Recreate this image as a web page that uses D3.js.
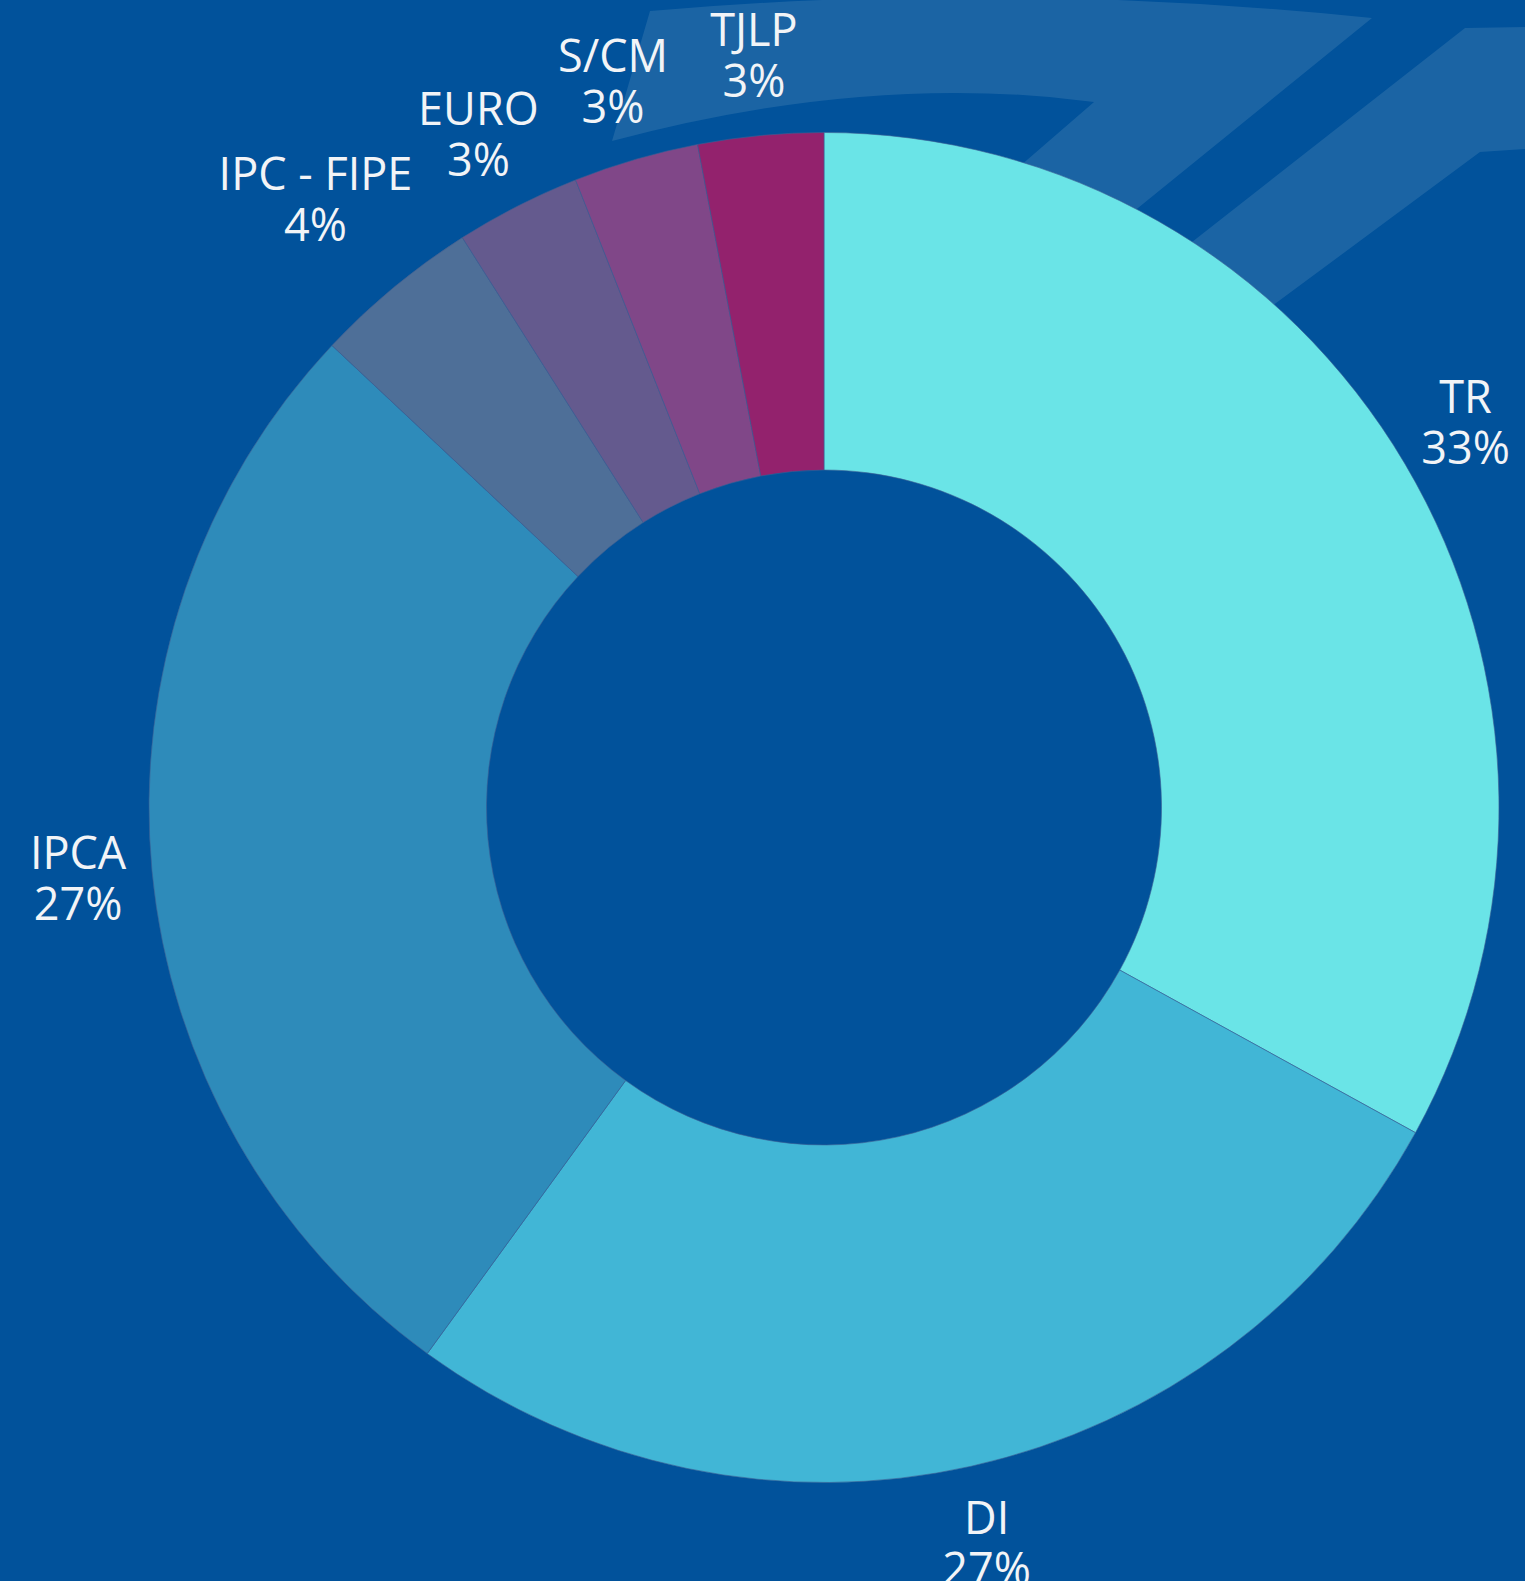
<!DOCTYPE html>
<html>
<head>
<meta charset="utf-8">
<script src="https://cdn.jsdelivr.net/npm/d3@7"></script>
<style>
  html, body { margin: 0; padding: 0; background: #01529b; overflow: hidden; }
  svg { display: block; }
</style>
</head>
<body>
<div id="wrapper"></div>
<script>
const categories = ["TR", "DI", "IPCA", "IPC - FIPE", "EURO", "S/CM", "TJLP"];
const values = [33, 27, 27, 4, 3, 3, 3];
const pctLabels = ["33%", "27%", "27%", "4%", "3%", "3%", "3%"];
const colors = ["#6ae4e7", "#41b6d6", "#2e8bba", "#4e6f98", "#645a8e", "#804788", "#93226d"];

function donutChart() {
    const dimensions = {
        width: 1525,
        height: 1581,
        cx: 824,
        cy: 807.5,
        outer: 675,
        inner: 337.5,
        labelRadius: 701,
        labelHalfHeight: 54
    };
    // small vertical nudge for the one label the original pushed upward
    const labelNudge = { "IPC - FIPE": -26 };

    const svg = d3.select("#wrapper")
        .append("svg")
        .attr("width", dimensions.width)
        .attr("height", dimensions.height);

    svg.append("rect")
        .attr("width", dimensions.width)
        .attr("height", dimensions.height)
        .attr("fill", "#01529b");

    // decorative logo bands behind the chart
    const deco = svg.append("g").attr("fill", "#1b64a4");
    deco.append("path")
        .attr("d", "M650,11 Q1000,-20 1372,18 L1000,320 L865,300 L1094,102 Q870,72 612,141 Z");
    deco.append("path")
        .attr("d", "M1465,28 L1525,27 L1525,149 L1480,152 L1175,378 L1067,340 Z");

    const data = categories.map((c, i) => ({ name: c, value: values[i], pct: pctLabels[i], color: colors[i] }));

    const pie = d3.pie()
        .sort(null)
        .value(d => d.value);

    const arc = d3.arc()
        .innerRadius(dimensions.inner)
        .outerRadius(dimensions.outer);

    const bounds = svg.append("g")
        .attr("transform", `translate(${dimensions.cx},${dimensions.cy})`);

    const arcs = pie(data);

    bounds.selectAll("path.slice")
        .data(arcs)
        .join("path")
        .attr("class", "slice")
        .attr("d", arc)
        .attr("fill", d => d.data.color)
        .attr("stroke", "#3d5f95")
        .attr("stroke-opacity", 0.6)
        .attr("stroke-width", 1);

    const labels = bounds.selectAll("text.label")
        .data(arcs)
        .join("text")
        .attr("class", "label")
        .attr("text-anchor", "middle")
        .attr("fill", "#f2f4f7")
        .style("font-family", "'Open Sans', sans-serif")
        .style("font-size", "45px");

    labels.each(function(d) {
        const t = d3.select(this);
        const s1 = t.append("tspan").attr("x", 0).attr("y", -10).text(d.data.name);
        const s2 = t.append("tspan").attr("x", 0).attr("y", 41).text(d.data.pct);
        const w = Math.max(s1.node().getComputedTextLength(), s2.node().getComputedTextLength());
        const a = (d.startAngle + d.endAngle) / 2;
        const x = Math.sin(a) * (dimensions.labelRadius + w / 2);
        const y = -Math.cos(a) * (dimensions.labelRadius + dimensions.labelHalfHeight) + (labelNudge[d.data.name] || 0);
        t.attr("transform", `translate(${x},${y})`);
    });
}

donutChart();
</script>
</body>
</html>
